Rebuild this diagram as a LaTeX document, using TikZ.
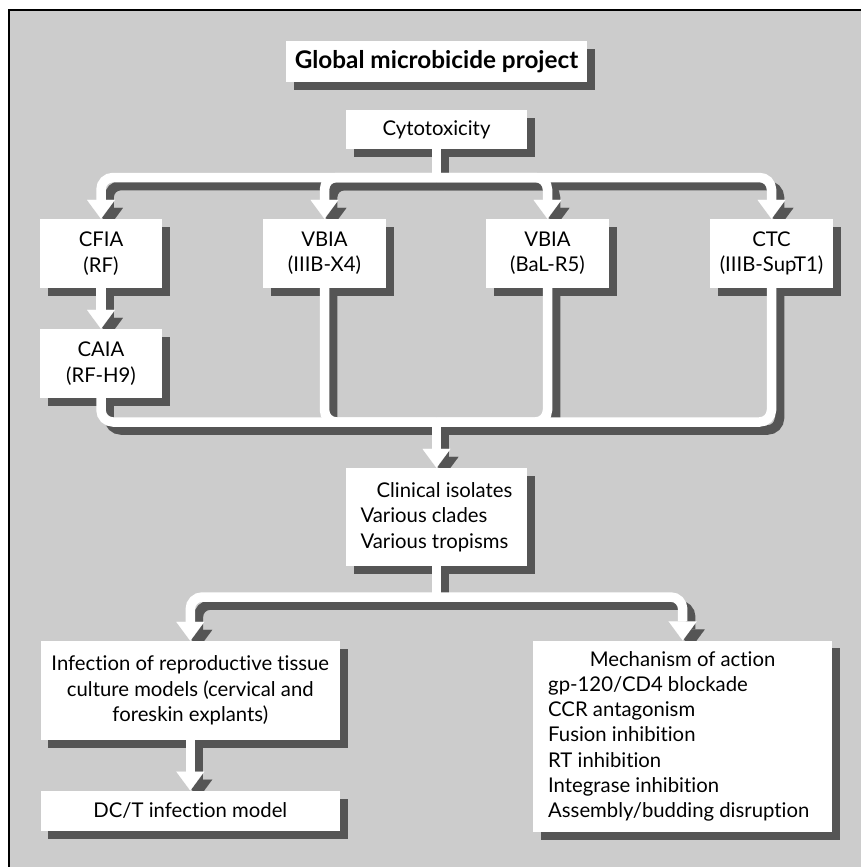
\documentclass[tikz,border=0pt]{standalone}
\usepackage{fontspec}
\setmainfont{Lato}[Ligatures={NoCommon}]
\usetikzlibrary{arrows.meta}
\definecolor{bgc}{HTML}{CCCCCC}
\definecolor{shc}{HTML}{555555}
\pgfdeclarelayer{bglayer}
\pgfdeclarelayer{shadowlayer}
\pgfdeclarelayer{connlayer}
\pgfsetlayers{bglayer,shadowlayer,connlayer,main}
\newcommand\allconn[1]{%
  \draw[conn,#1] (cyto.south) -- (j1);
  \draw[conn,#1,twoarr] (cfia.north) |- (j1) -| (ctc.north);
  \draw[conn,#1,onearr] (j1) -| (vbiaa.north);
  \draw[conn,#1,onearr] (j1) -| (vbiab.north);
  \draw[conn,#1,onearr] (cfia.south) -- (caia.north);
  \draw[conn,#1] (caia.south) |- (j2) -| (ctc.south);
  \draw[conn,#1] (vbiaa.south) |- (j2);
  \draw[conn,#1] (vbiab.south) |- (j2);
  \draw[conn,#1,onearr] (j2) -- (clin.north);
  \draw[conn,#1] (clin.south) -- (j3);
  \draw[conn,#1,twoarr] (infect.north) |- (j3) -| (mech.north);
  \draw[conn,#1,onearr] (infect.south) -- (dct.north);
}
\begin{document}
\begin{tikzpicture}[x=1pt,y=-1pt,
  box/.style={fill=white, inner sep=0pt, align=center, text=black,
    font=\fontsize{20.3}{25.3}\selectfont},
  txt/.style={inner sep=0pt, text=black, font=\fontsize{20.3}{25.3}\selectfont},
  conn/.style={line width=9.5pt, rounded corners=12pt},
  onearr/.style={-{Triangle[width=28pt,length=19pt,line width=0.01pt]}},
  twoarr/.style={{Triangle[width=28pt,length=19pt,line width=0.01pt]}-{Triangle[width=28pt,length=19pt,line width=0.01pt]}}
]
\useasboundingbox (0,0) rectangle (861,867);
\begin{pgfonlayer}{bglayer}
\fill[white] (0,0) rectangle (861,867);
\fill[bgc] (9,10.3) rectangle (861,867);
\draw[line width=2pt] (9,867) -- (9,10.3) -- (861,10.3);
\end{pgfonlayer}

% boxes
\node[box, minimum width=301pt, minimum height=41pt,
  font=\fontsize{24.3}{28}\selectfont\bfseries] (title) at (436.5,61.5) {Global microbicide project};
\node[box, minimum width=181pt, minimum height=39pt] (cyto) at (436.5,129.5) {Cytotoxicity};
\node[box, minimum width=122pt, minimum height=69pt] (cfia) at (101,253.5) {CFIA\\(RF)};
\node[box, minimum width=123pt, minimum height=69pt] (vbiaa) at (324.5,253.5) {VBIA\\(IIIB-X4)};
\node[box, minimum width=123pt, minimum height=69pt] (vbiab) at (547.5,253.5) {VBIA\\(BaL-R5)};
\node[box, minimum width=123pt, minimum height=69pt] (ctc) at (771.5,253.5) {CTC\\(IIIB-SupT1)};
\node[box, minimum width=122pt, minimum height=69pt] (caia) at (101,363.5) {CAIA\\(RF-H9)};
\node[box, minimum width=181pt, minimum height=98pt, align=left] (clin) at (436.5,517)
  {\hspace*{16pt}Clinical isolates\\Various clades\\Various tropisms};
\node[box, minimum width=299.3pt, minimum height=99pt] (infect) at (190.3,690.5)
  {Infection of reproductive tissue\\culture models (cervical and\\foreskin explants)};
\node[box, minimum width=299.3pt, minimum height=40pt] (dct) at (190.3,810.7) {DC/T infection model};
\node[box, minimum width=298.7pt, minimum height=191.3pt] (mech) at (682.7,736.3) {};
\node[txt, anchor=west, align=left] (mechtxt) at (548,736.3)
  {\makebox[268.7pt][c]{Mechanism of action}\\gp-120/CD4 blockade\\CCR antagonism\\Fusion inhibition\\RT inhibition\\Integrase inhibition\\Assembly/budding disruption};

\coordinate (j1) at (436.5,177.5);
\coordinate (j2) at (436.5,422);
\coordinate (j3) at (436.5,597);

% shadows
\begin{pgfonlayer}{shadowlayer}
  \foreach \n in {title,cyto,cfia,vbiaa,vbiab,ctc,caia,clin,infect,dct,mech}
    \fill[shc] ([shift={(8pt,-8pt)}]\n.south west) rectangle ([shift={(8pt,-8pt)}]\n.north east);
  \begin{scope}[transform canvas={shift={(8pt,-8pt)}}]
    \allconn{draw=shc}
  \end{scope}
\end{pgfonlayer}

% white connectors
\begin{pgfonlayer}{connlayer}
  \allconn{draw=white}
\end{pgfonlayer}
\end{tikzpicture}
\end{document}
